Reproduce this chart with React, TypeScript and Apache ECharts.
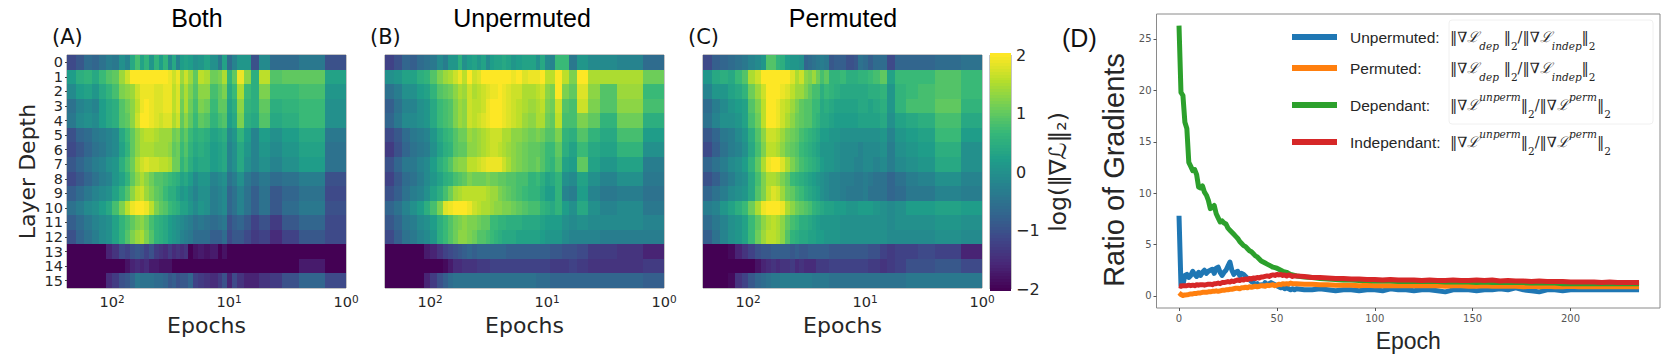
import React, { useEffect, useRef } from "react";
import * as echarts from "echarts";

const viridis = ["#440154","#482878","#3e4989","#31688e","#26828e","#1f9e89","#35b779","#6ece58","#b5de2b","#fde725"];
const epochEdges = [243,205,175,150,130,112,100,88,78,70,64,58,53,48,44,40,36.5,33.5,30.5,28.5,26.5,24.5,22.5,20.5,18.5,16.5,14.5,12.5,11.5,10.5,9.5,8.5,7.5,6.5,5.5,4.5,3.5,2.5,1.5,1];
const layerLabels = ["0","1","2","3","4","5","6","7","8","9","10","11","12","13","14","15"];
const majorTicks = [100,10,1];
const minorTicks = [200,90,80,70,60,50,40,30,20,9,8,7,6,5,4,3,2];
const lineXTicks = [0,50,100,150,200];
const lineYTicks = [0,5,10,15,20,25];

const bothRows = [
[-1.1,-0.9,-0.6,-0.7,-0.5,-0.3,-0.4,0,-0.2,0.4,0.8,0.3,0.6,0.1,0.6,0.2,0.6,-0.1,0.4,-0.2,0.2,0.3,0.2,0,0.1,0.3,0,-0.4,0.3,-0.6,-0.2,0.1,0.1,-1,-0.1,-0.6,-0.6,-0.4,-1],
[0.2,0.5,0.6,0.4,0.7,0.9,1,1.4,1.7,2,2,2,2,2,2,2,2,1.9,1.7,1.9,1.4,1.7,1.4,1,1.6,1.5,1.1,1.2,1.5,0.6,1,1.9,1.3,0.5,1.6,0.9,1,1,0.3],
[-0.1,0.2,0.3,0.1,0.4,0.6,0.8,1.2,1.3,1.4,1.7,1.9,1.9,1.9,1.8,1.8,1.9,1.9,1.6,1.8,1.2,1.5,1.2,0.9,1.3,1.3,0.8,1,1.2,0.4,0.7,1.5,0.7,0.5,1.2,0.7,0.7,0.8,0.1],
[-0.5,-0.2,-0.1,-0.2,0.2,0.4,0.5,0.9,1.1,1.3,1.6,1.9,2,1.9,1.8,1.8,1.9,1.9,1.6,1.8,1.1,1.5,1.1,0.8,1.2,1.1,0.7,1,1,0.3,0.5,1.3,0.6,0.5,1,0.5,0.6,0.7,0],
[-0.4,-0.1,0,-0.1,0.2,0.4,0.5,0.9,1,1.3,1.7,2,2,1.9,1.8,1.7,1.8,1.8,1.5,1.7,1,1.3,1,0.7,1,0.9,0.6,0.8,0.9,0.2,0.4,1.2,0.5,0.4,0.9,0.4,0.5,0.7,0],
[-1,-0.7,-0.6,-0.4,-0.3,-0.2,-0.1,0.4,0.7,1,1.3,1.5,1.6,1.6,1.5,1.4,1.4,1.4,1.1,1.2,0.8,1,0.7,0.5,0.6,0.5,0.3,0.4,0.5,-0.1,0.1,0.6,0.2,-0.2,0.2,0,0.2,0.4,-0.4],
[-1.1,-0.9,-0.7,-0.5,-0.4,-0.2,-0.1,0.3,0.6,1,1.3,1.5,1.5,1.5,1.4,1.4,1.4,1.3,1,1.1,0.7,0.9,0.6,0.4,0.5,0.4,0.2,0.3,0.4,-0.2,0,0.4,0.1,-0.2,0.1,-0.1,0.1,0.3,-0.5],
[-0.9,-0.7,-0.5,-0.3,-0.2,0,0.1,0.5,0.8,1.1,1.5,1.7,1.8,1.7,1.7,1.6,1.6,1.5,1.1,1.1,0.6,0.8,0.5,0.3,0.4,0.4,0.2,0.3,0.4,-0.2,0,0.4,0,-0.2,0,-0.2,0,0.2,-0.5],
[-1.1,-0.9,-0.7,-0.5,-0.3,-0.2,0.1,0.3,0.6,1,1.3,1.5,1.3,1.1,0.9,0.9,0.8,0.7,0.6,0.5,0.3,0.4,0.2,-0.1,0.1,0.1,-0.2,-0.1,0,-0.5,-0.3,0,-0.4,-0.6,-0.4,-0.6,-0.5,-0.3,-1],
[-0.8,-0.6,-0.4,-0.2,-0.1,0,0.3,0.6,0.9,1.3,1.6,1.7,1.4,1.2,1,0.9,0.7,0.5,0.5,0.3,0.1,0.2,0,-0.2,0,0,-0.3,-0.2,-0.1,-0.7,-0.5,-0.2,-0.5,-0.8,-0.5,-0.9,-0.7,-0.5,-1.1],
[-0.5,-0.3,-0.1,0,0.2,0.4,0.8,1.2,1.6,1.9,2,2,1.9,1.6,1.2,1,0.9,0.7,0.6,0.5,0.3,0.3,0.1,-0.1,0.1,0,-0.3,-0.2,-0.1,-0.7,-0.5,-0.2,-0.5,-0.8,-0.5,-0.9,-0.6,-0.4,-1],
[-0.8,-0.6,-0.4,-0.2,-0.1,0,0.3,0.6,0.8,1,1.2,1.3,1.1,0.8,0.6,0.5,0.4,0.2,0.1,0,-0.1,-0.2,-0.3,-0.5,-0.4,-0.5,-0.6,-0.5,-0.4,-1,-0.8,-0.7,-0.9,-1.2,-1,-1.3,-0.9,-0.7,-1.1],
[-1,-0.7,-0.5,-0.3,-0.1,0,0.3,0.6,0.9,1.2,1.4,1.5,1.2,0.9,0.6,0.5,0.4,0.2,0.1,0,-0.2,-0.3,-0.4,-0.6,-0.6,-0.6,-0.8,-0.8,-0.6,-1.1,-0.9,-0.9,-1.1,-1.3,-1.2,-1.5,-1.2,-0.9,-1.1],
[-2,-2,-2,-2,-2,-1.6,-1.4,-1.1,-1.2,-1,-0.9,-1,-1.2,-1,-1.3,-1.4,-1.5,-1.3,-1.5,-1.4,-1.5,-1.4,-2,-1.8,-1.7,-1.8,-1.7,-2,-1.8,-2,-2,-2,-2,-2,-2,-2,-2,-2,-2],
[-2,-2,-2,-2,-2,-2,-2,-2,-1.8,-1.6,-1.5,-1.6,-1.5,-1.7,-1.7,-1.8,-1.8,-1.8,-2,-2,-2,-2,-2,-2,-2,-2,-2,-2,-2,-2,-2,-2,-2,-2,-2,-2,-2,-1.7,-2],
[-2,-2,-2,-2,-2,-1.5,-1.3,-1,-0.9,-0.7,-0.4,-0.5,-0.5,-0.5,-0.6,-0.6,-0.7,-0.9,-0.8,-1,-0.9,-0.9,-0.7,-1.2,-1.3,-1.4,-1.5,-1.3,-1,-1.6,-1.1,-1.4,-1.6,-1.6,-1.4,-1.3,-1,-0.7,-1.1],
];

const unpermutedRows = [
[-1.2,-1,-0.7,-0.8,-0.6,-0.5,-0.4,-0.1,-0.3,0.1,0.1,0.5,0,0.2,0.3,0.1,0.3,-0.1,0.2,0.3,0.3,0.4,0.3,0.1,0.2,0.3,0.3,0,0.4,-0.1,-0.2,0.7,0.7,-0.4,0.1,-0.1,-0.1,-0.2,-0.6],
[0,0.1,0.3,0.3,0.5,0.6,0.9,1.2,1.4,1.5,1.7,1.9,1.6,2,1.7,1.8,2,2,2,2,2,2,2,1.9,2,1.8,1.9,1.9,2,1.6,1.6,2,1.6,1.2,2,1.5,1.5,1.5,1.1],
[-0.5,-0.3,0,0,0.2,0.3,0.6,0.9,1,1.1,1.3,1.5,1.4,1.7,1.5,1.6,1.7,1.8,1.9,1.9,2,1.9,1.8,1.7,1.7,1.5,1.5,1.6,1.7,1.3,1.2,2,1.2,1,1.8,1.3,0.9,1.4,0.7],
[-0.8,-0.5,-0.2,-0.2,0,0.1,0.4,0.7,0.8,0.9,1.2,1.4,1.3,1.7,1.6,1.6,1.7,1.9,2,2,2,1.9,1.8,1.7,1.6,1.5,1.4,1.5,1.6,1.2,1.1,1.7,0.9,0.8,1.7,1.2,0.9,1.3,0.8],
[-0.7,-0.4,-0.1,-0.1,0,0.1,0.4,0.7,0.8,0.9,1.2,1.4,1.3,1.7,1.6,1.7,1.8,1.9,2,2,2,1.9,1.8,1.7,1.6,1.4,1.3,1.5,1.5,1.1,1,1.6,0.8,0.8,1.2,1,0.6,1.1,0.5],
[-1.1,-0.9,-0.6,-0.4,-0.3,-0.2,0.1,0.4,0.6,0.7,0.9,1.1,1.1,1.4,1.3,1.4,1.5,1.6,1.7,1.7,1.7,1.5,1.5,1.3,1.3,1.2,1.1,1.2,1.1,0.9,0.9,1.2,0.6,0.5,0.9,0.6,0.4,0.8,0.2],
[-1.3,-1,-0.7,-0.5,-0.4,-0.3,0,0.3,0.5,0.6,0.9,1,1,1.3,1.3,1.4,1.5,1.6,1.7,1.7,1.6,1.5,1.4,1.3,1.2,1.1,1,1,0.9,0.7,0.7,1,0.5,0.3,0.7,0.4,0.3,0.6,0],
[-1,-0.7,-0.4,-0.4,-0.2,-0.1,0.2,0.5,0.7,0.9,1.2,1.3,1.3,1.6,1.6,1.7,1.8,1.9,1.9,1.9,1.9,1.7,1.5,1.3,1.2,1.1,1,1.1,0.9,0.7,0.6,0.9,0.3,0.2,1,0.3,0.1,0.3,-0.3],
[-1.2,-0.9,-0.6,-0.5,-0.3,-0.1,0.1,0.3,0.5,0.6,0.8,0.9,1,1.2,1.1,1.1,1.1,1.2,1.1,1.1,1,1,0.9,0.9,0.8,0.8,0.6,0.7,0.5,0.3,0.4,0.6,0,-0.1,0.3,0,-0.2,0,-0.4],
[-1,-0.8,-0.5,-0.3,-0.2,0,0.3,0.5,0.8,1.1,1.4,1.5,1.6,1.6,1.6,1.6,1.6,1.5,1.4,1.4,1.2,1.1,1,0.9,0.8,0.7,0.6,0.6,0.4,0.2,0.2,0.6,-0.2,-0.3,0.2,-0.2,-0.4,-0.3,-0.5],
[-0.7,-0.5,-0.2,0,0.2,0.5,0.8,1.2,1.8,1.9,2,2,2,1.9,1.7,1.6,1.5,1.5,1.4,1.3,1.3,1.2,1.2,1.1,1,0.9,0.8,0.8,0.6,0.5,0.4,0.6,0.2,0,0.4,0,-0.2,-0.1,-0.4],
[-0.9,-0.7,-0.4,-0.3,-0.1,0,0.2,0.5,0.7,0.9,1.1,1.2,1.3,1.2,1.2,1.1,1,1,0.7,0.7,0.6,0.6,0.5,0.5,0.5,0.4,0.4,0.4,0.3,0.2,0.2,0.2,0,-0.1,0,-0.1,-0.1,-0.1,-0.2],
[-1.1,-0.8,-0.5,-0.4,-0.2,-0.1,0.1,0.5,0.7,0.9,1.1,1.3,1.3,1.2,1.1,0.9,0.9,0.8,0.7,0.6,0.5,0.4,0.4,0.4,0.3,0.3,0.3,0.3,0.2,0.1,0.1,0.1,-0.1,-0.2,-0.2,-0.2,-0.3,-0.3,-0.3],
[-2,-2,-2,-2,-2,-1.7,-1.6,-1.4,-1.2,-1.1,-1,-0.9,-0.8,-0.7,-0.8,-0.7,-0.7,-0.7,-0.7,-0.7,-0.7,-0.7,-0.8,-0.8,-0.8,-0.8,-0.8,-0.8,-0.8,-0.8,-0.9,-0.9,-1,-1,-1.1,-1.3,-1.3,-1.4,-1.6],
[-2,-2,-2,-2,-2,-2,-2,-2,-1.9,-1.7,-1.5,-1.5,-1.4,-1.4,-1.4,-1.3,-1.3,-1.3,-1.2,-1.2,-1.2,-1.2,-1.2,-1.2,-1.2,-1.2,-1.2,-1.2,-1.2,-1.2,-1.3,-1.3,-1.3,-1.2,-1.3,-1.4,-1.4,-1.4,-1.3],
[-2,-2,-2,-2,-2,-1.6,-1.3,-1,-0.8,-0.6,-0.5,-0.5,-0.5,-0.5,-0.5,-0.5,-0.5,-0.5,-0.5,-0.5,-0.5,-0.5,-0.5,-0.5,-0.5,-0.5,-0.5,-0.6,-0.6,-0.6,-0.7,-0.7,-0.7,-0.7,-0.7,-0.7,-0.7,-0.7,-0.8],
];

const permutedRows = [
[-1.1,-0.8,-0.7,-0.6,-0.5,-0.4,-0.2,-0.1,0.1,0.9,0.9,0.6,0.5,0.2,0.1,0.1,0,-0.7,-0.6,-0.5,-0.4,-0.3,-0.4,-0.9,-0.8,-0.8,-1,-0.9,-0.5,-0.6,-0.8,-0.6,-0.6,-1.1,-0.7,-0.7,-0.7,-0.6,-0.5],
[0.1,0.4,0.5,0.4,0.7,0.9,1.5,1.7,2,2,2,2,2,2,1.8,1.5,1.7,1.3,1.2,1.4,1.1,0.8,1,0.6,0.6,0.7,0.5,0.5,0.6,0.6,0.7,0.8,1,0.3,0.7,0.7,0.7,0.9,0.7],
[-0.2,0.1,0.1,0.3,0.4,0.6,1.1,1.4,1.7,2,2,2,1.9,1.8,1.6,1.4,1.4,1.2,1,0.8,0.8,0.5,0.7,0.6,0.5,0.4,0.4,0.4,0.4,0.4,0.5,0.5,0.6,0.1,0.6,0.7,0.8,0.9,0.7],
[-0.6,-0.3,-0.1,0.1,0.2,0.3,0.9,1.2,1.6,2,2,1.9,1.7,1.6,1.4,1.2,1,0.9,0.9,0.7,0.7,0.4,0.5,0.4,0.3,0.3,0.3,0.3,0.4,0.4,0.3,0.4,0.5,0.1,0.6,0.8,0.8,1,0.6],
[-0.5,-0.2,0,0,0.1,0.3,0.8,1.1,1.6,2,2,1.9,1.7,1.5,1.3,1.1,1,0.9,0.9,0.7,0.6,0.4,0.4,0.3,0.2,0.2,0.2,0.2,0.3,0.3,0.3,0.3,0.4,0,0.3,0.4,0.5,0.8,0.4],
[-0.9,-0.7,-0.4,-0.3,-0.1,0.1,0.5,0.9,1.3,1.7,1.7,1.6,1.4,1.2,1.1,1,0.8,0.7,0.6,0.5,0.4,0.2,0.2,0.1,0.1,0,0,0,0,0,0,0,0.1,-0.2,0.1,0.2,0.3,0.7,0.2],
[-1.1,-0.8,-0.5,-0.3,-0.2,0,0.4,0.8,1.2,1.6,1.6,1.5,1.3,1.1,1,0.9,0.7,0.6,0.5,0.4,0.3,0.1,0.1,0.1,0,-0.1,-0.1,-0.1,-0.2,-0.1,-0.1,-0.1,0,-0.3,0,0.1,0.2,0.5,0],
[-0.7,-0.5,-0.3,-0.1,0,0.2,0.6,1,1.5,1.9,2,2,1.8,1.5,1.2,1,0.8,0.7,0.6,0.5,0.4,0.2,0.1,0.1,0,-0.1,-0.1,-0.2,-0.2,-0.1,-0.1,-0.2,-0.1,-0.3,-0.1,0,0.1,0.4,0],
[-1,-0.8,-0.5,-0.3,-0.1,0,0.4,0.8,1.2,1.5,1.5,1.4,1.2,1,0.7,0.6,0.5,0.4,0.3,0.2,0.1,0,-0.1,-0.2,-0.2,-0.3,-0.3,-0.4,-0.4,-0.3,-0.4,-0.5,-0.5,-0.7,-0.5,-0.3,-0.2,0,-0.2],
[-0.7,-0.5,-0.3,-0.1,0,0.1,0.4,0.9,1.2,1.6,1.8,1.7,1.4,1.1,1,0.8,0.7,0.5,0.4,0.3,0.2,0,-0.1,-0.2,-0.2,-0.3,-0.4,-0.4,-0.4,-0.3,-0.5,-0.5,-0.5,-0.7,-0.6,-0.4,-0.4,-0.2,-0.3],
[-0.3,-0.2,0.1,0.3,0.5,0.7,1.1,1.5,1.9,2,2,2,1.9,1.5,1.3,1.1,1,0.9,0.8,0.6,0.5,0.4,0.3,0.3,0.2,0.2,0.1,0.1,0.2,0.2,0.2,0.1,0,-0.1,0,0.2,0.2,0.3,0.2],
[-0.6,-0.4,-0.2,0,0.1,0.3,0.7,1,1.3,1.5,1.6,1.5,1.3,1,0.8,0.7,0.5,0.5,0.4,0.3,0.2,0.1,0.1,0.1,0.1,0,0,0,0,0,0,0,0,-0.1,0,0,0,0.1,0],
[-0.8,-0.5,-0.2,0,0.1,0.3,0.7,1.1,1.4,1.6,1.6,1.5,1.3,0.9,0.6,0.5,0.4,0.4,0.3,0.3,0.2,0.2,0.1,0.1,0.1,0,0,0,0,0,0,0,0,-0.1,-0.1,-0.1,-0.1,0,-0.1],
[-2,-2,-2,-1.9,-1.6,-1.4,-1.2,-1,-0.9,-0.9,-0.8,-0.8,-0.8,-0.8,-0.9,-0.8,-0.9,-0.9,-0.8,-0.8,-0.8,-0.8,-0.8,-0.9,-0.9,-0.9,-0.9,-0.9,-0.9,-0.9,-1,-1,-1.2,-1.3,-1.2,-1.2,-1.1,-1.2,-1.6],
[-2,-2,-2,-2,-2,-2,-2,-1.8,-1.6,-1.5,-1.4,-1.5,-1.4,-1.4,-1.3,-1.5,-1.4,-1.5,-1.5,-1.5,-1.3,-1.3,-1.3,-1.2,-1.2,-1.2,-1.2,-1.2,-1.2,-1.2,-1.3,-1.3,-1.4,-1.3,-1.2,-1,-1,-0.9,-1.1],
[-2,-2,-2,-1.9,-1.4,-1.2,-0.9,-0.7,-0.6,-0.5,-0.4,-0.4,-0.3,-0.3,-0.3,-0.3,-0.3,-0.3,-0.3,-0.4,-0.4,-0.4,-0.4,-0.5,-0.5,-0.5,-0.5,-0.5,-0.5,-0.5,-0.5,-0.5,-0.5,-0.5,-0.5,-0.4,-0.4,-0.4,-0.4],
];

const lineEpochs = [0,1,2,3,4,5,6,7,8,9,10,11,12,13,14,15,16,17,18,19,20,21,22,23,24,25,26,27,28,29,30,31,32,33,34,35,36,37,38,39,40,41,42,43,44,45,46,47,48,49,50,51,52,53,54,55,56,57,58,59,60,64,68,72,76,80,84,88,92,96,100,104,108,112,116,120,124,128,132,136,140,144,148,152,156,160,164,168,172,176,180,184,188,192,196,200,204,208,212,216,220,224,228,232,235];
const unpermutedRatio = [7.8,1,1.1,2,2.1,1.8,2,2.4,2.1,1.9,2.3,2,2.3,2.5,2.2,2.4,2.5,2.6,2.2,2.7,2.8,2.3,2,2.3,2.5,2.9,3.3,2.5,2.1,2.3,2.4,2,2.2,2.1,1.9,1.7,1.6,1.4,1.3,1.1,1.2,1,1.1,1,1.3,1.1,1.2,1.3,1.2,1.1,1,0.9,0.8,0.9,0.7,0.8,0.7,0.6,0.7,0.6,
0.7,0.6,0.6,0.7,0.6,0.5,0.6,0.6,0.5,0.6,0.6,0.5,0.7,0.6,0.6,0.5,0.6,0.6,0.5,0.4,0.6,0.6,0.6,0.5,0.6,0.6,0.7,0.6,0.8,0.6,0.5,0.4,0.6,0.6,0.5,0.6,0.6,0.6,0.6,0.6,0.6,0.6,0.6,0.6,0.6];
const permutedRatio = [0.3,0.15,0.05,0.1,0.12,0.15,0.2,0.2,0.25,0.25,0.3,0.3,0.35,0.35,0.35,0.4,0.4,0.45,0.45,0.5,0.45,0.5,0.55,0.55,0.6,0.6,0.65,0.65,0.7,0.75,0.75,0.7,0.8,0.8,0.85,0.8,0.9,0.85,0.9,0.95,0.9,0.95,1,1,0.95,1.05,1,1.05,1.1,1,1.05,1.15,1.1,1.2,1.15,1.2,1.15,1.25,1.2,1.2,
1.2,1.15,1.15,1.1,1.1,1.05,1.05,1.05,1,1.05,1,1,1,1,1,1,1,1,1,0.95,1,1,0.95,0.95,1,0.95,0.95,0.95,0.95,0.9,0.95,0.9,0.95,0.9,0.9,0.95,0.9,0.9,0.9,0.9,0.9,0.9,0.9,0.9,0.9];
const dependantRatio = [26.3,19.8,19.5,16.9,16.3,13,12.6,12.2,12.3,11.8,10.6,10.5,10.7,10.1,9.8,9.3,8.5,8.6,8.8,8,7.6,7.2,7.3,7.1,7,6.6,6.4,6.2,6,5.8,5.6,5.3,5.1,4.9,4.8,4.6,4.4,4.3,4.1,3.9,3.8,3.6,3.4,3.3,3.2,3.1,3,2.9,2.8,2.75,2.7,2.6,2.5,2.4,2.35,2.3,2.2,2.1,2.05,2,
1.95,1.85,1.8,1.7,1.65,1.6,1.55,1.55,1.5,1.5,1.45,1.45,1.45,1.4,1.4,1.4,1.4,1.4,1.4,1.35,1.35,1.35,1.35,1.3,1.35,1.3,1.3,1.3,1.3,1.3,1.25,1.25,1.25,1.25,1.2,1.2,1.2,1.2,1.2,1.2,1.2,1.2,1.2,1.2,1.2];
const independantRatio = [1,0.95,1,1,1,1.05,1,1.05,1,1.1,1.05,1.1,1.1,1.05,1.1,1.15,1.15,1.1,1.2,1.2,1.25,1.2,1.3,1.3,1.35,1.4,1.35,1.45,1.4,1.5,1.55,1.5,1.6,1.55,1.65,1.6,1.7,1.65,1.75,1.7,1.8,1.75,1.85,1.85,1.9,1.95,1.9,2,2.05,2,2.1,2.05,2.1,2,2.05,1.95,2.05,2,1.9,1.95,
1.95,1.9,1.8,1.8,1.75,1.7,1.7,1.65,1.65,1.6,1.6,1.55,1.6,1.55,1.55,1.55,1.5,1.55,1.5,1.5,1.55,1.5,1.5,1.55,1.5,1.55,1.45,1.5,1.45,1.45,1.4,1.45,1.4,1.4,1.4,1.35,1.35,1.35,1.35,1.3,1.35,1.3,1.3,1.3,1.3];
const lineNames = ["Unpermuted","Permuted","Dependant","Independant"];
const lineColors = ["#1f77b4","#ff7f0e","#2ca02c","#d62728"];
const panelTitles = ["Both","Unpermuted","Permuted"];
const colorbarLevels = Array.from({ length: 81 }, (_, i) => -2 + i * 0.05);

const DJ = "DejaVu Sans";
const LS = "Liberation Sans";
const SPINE = "#8a8a8a";
const INK = "#262626";

const renderCell = (params: any, api: any) => {
  const a = api.coord([api.value(0), api.value(2)]);
  const b = api.coord([api.value(1), api.value(2)]);
  const h = api.size([0, 1])[1];
  const x0 = Math.round(a[0]);
  const x1 = Math.round(b[0]);
  return {
    type: "rect",
    shape: { x: x0, y: Math.round(a[1] - h / 2), width: x1 - x0, height: Math.ceil(h) },
    style: { fill: api.visual("color") },
  };
};
const renderBar = (params: any, api: any) => {
  const a = api.coord([0, api.value(2) + 0.025]);
  const b = api.coord([1, api.value(2) - 0.025]);
  return {
    type: "rect",
    shape: { x: a[0], y: Math.floor(a[1]), width: b[0] - a[0], height: Math.ceil(b[1] - a[1]) + 1 },
    style: { fill: api.visual("color") },
  };
};

const panelX = [[67, 346], [385, 664], [703, 982]];
const PTOP = 55;
const PBOT = 288;
const W = 1673;
const H = 359;

function buildOption() {
  const grids: any[] = [];
  const xAxes: any[] = [];
  const yAxes: any[] = [];
  const series: any[] = [];
  const rowsByPanel = [bothRows, unpermutedRows, permutedRows];
  panelX.forEach(([l, r], p) => {
    grids.push({ left: l, width: r - l, top: PTOP, height: PBOT - PTOP, show: true, borderColor: SPINE, borderWidth: 1, backgroundColor: "transparent" });
    xAxes.push({
      type: "log", gridIndex: p, min: 1, max: 243, inverse: true, name: "Epochs", nameLocation: "middle", nameGap: 24,
      nameTextStyle: { fontFamily: DJ, fontSize: 22, color: INK },
      axisLine: { show: false },
      axisTick: { length: 4, lineStyle: { color: "#444" }, customValues: majorTicks },
      axisLabel: {
        color: INK, margin: 5, customValues: majorTicks,
        formatter: (v: number) => `{b|10}{s|${v >= 100 ? 2 : v >= 10 ? 1 : 0}}`,
        rich: {
          b: { fontFamily: DJ, fontSize: 14.5, color: INK, lineHeight: 18 },
          s: { fontFamily: DJ, fontSize: 10.5, color: INK, verticalAlign: "top", lineHeight: 12 },
        },
      },
      splitLine: { show: false },
    });
    yAxes.push({
      type: "category", gridIndex: p, data: layerLabels, inverse: true,
      name: p === 0 ? "Layer Depth" : "", nameLocation: "middle", nameGap: 29, nameRotate: 90,
      nameTextStyle: { fontFamily: DJ, fontSize: 22, color: INK },
      axisLine: { show: false },
      axisTick: { show: p === 0, length: 2, alignWithLabel: true, lineStyle: { color: "#444" } },
      axisLabel: { show: p === 0, fontFamily: DJ, fontSize: 14.5, color: INK, margin: 4, interval: 0 },
      splitLine: { show: false },
    });
    const cells: number[][] = [];
    rowsByPanel[p].forEach((row, ri) => row.forEach((v, ci) => cells.push([epochEdges[ci], epochEdges[ci + 1], ri, v])));
    series.push({ type: "custom", xAxisIndex: p, yAxisIndex: p, renderItem: renderCell, data: cells, encode: { x: [0, 1], y: 2 }, silent: true, clip: true });
  });
  panelX.forEach(([l, r], p) => {
    xAxes.push({
      type: "log", gridIndex: p, min: 1, max: 243, inverse: true, position: "bottom",
      axisLine: { show: false },
      axisTick: { length: 2, lineStyle: { color: "#444" }, customValues: minorTicks },
      axisLabel: { show: false },
      splitLine: { show: false },
    });
  });
  grids.push({ left: 990, width: 21, top: PTOP, height: 234, show: true, borderColor: SPINE, borderWidth: 1, backgroundColor: "transparent" });
  xAxes.push({ type: "value", gridIndex: 3, min: 0, max: 1, show: false });
  yAxes.push({
    type: "value", gridIndex: 3, min: -2, max: 2, interval: 1, position: "right",
    name: "log(‖∇ℒ‖₂)", nameLocation: "middle", nameRotate: 90, nameGap: 35,
    nameTextStyle: { fontFamily: DJ, fontSize: 23.5, color: INK },
    axisLine: { show: false },
    axisTick: { length: 3, lineStyle: { color: "#444" } },
    axisLabel: { fontFamily: DJ, fontSize: 16, color: INK, margin: 5, formatter: (v: number) => String(v).replace("-", "−") },
    splitLine: { show: false },
  });
  series.push({
    type: "custom", xAxisIndex: 6, yAxisIndex: 3, renderItem: renderBar,
    data: colorbarLevels.map((v) => [0, 1, v, v]), encode: { x: [0, 1], y: 2 }, silent: true,
  });
  grids.push({ left: 1156.5, width: 503.5, top: 14, height: 294, show: true, borderColor: SPINE, borderWidth: 1, backgroundColor: "transparent" });
  xAxes.push({
    type: "value", gridIndex: 4, min: -11.5, max: 245.7, name: "Epoch", nameLocation: "middle", nameGap: 21,
    nameTextStyle: { fontFamily: LS, fontSize: 23, color: INK },
    axisLine: { show: false, onZero: false },
    axisTick: { length: 3, lineStyle: { color: "#555" }, customValues: lineXTicks },
    axisLabel: { fontFamily: DJ, fontSize: 10, color: "#555", margin: 5, customValues: lineXTicks },
    splitLine: { show: false },
  });
  yAxes.push({
    type: "value", gridIndex: 4, min: -1.17, max: 27.43, name: "Ratio of Gradients", nameLocation: "middle", nameRotate: 90, nameGap: 28,
    nameTextStyle: { fontFamily: LS, fontSize: 29, color: INK, padding: [0, 18, 0, 0] },
    axisLine: { show: false, onZero: false },
    axisTick: { length: 3, lineStyle: { color: "#555" }, customValues: lineYTicks },
    axisLabel: { fontFamily: DJ, fontSize: 10, color: "#555", margin: 5, customValues: lineYTicks },
    splitLine: { show: false },
  });
  const lineData = [unpermutedRatio, permutedRatio, dependantRatio, independantRatio];
  lineData.forEach((vals, i) => {
    series.push({
      type: "line", name: lineNames[i], xAxisIndex: 7, yAxisIndex: 4, showSymbol: false,
      data: vals.map((v, j) => [lineEpochs[j], v]),
      lineStyle: { color: lineColors[i], width: 5, join: "round" }, itemStyle: { color: lineColors[i] }, silent: true,
    });
  });

  const depIndep = "{m|‖∇}{c|ℒ}{sub|dep}{m| ‖}{s2|2}{m|/‖∇}{c|ℒ}{sub|indep}{m|‖}{s2|2}";
  const unpPerm = "{m|‖∇}{c|ℒ}{sup|unperm}{m|‖}{s2|2}{m|/‖∇}{c|ℒ}{sup|perm}{m|‖}{s2|2}";
  const legendMath: Record<string, string> = { Unpermuted: depIndep, Permuted: depIndep, Dependant: unpPerm, Independant: unpPerm };
  const MATH = "DejaVu Serif";

  const titles = panelTitles.map((t, i) => ({
    text: t, left: [197, 522, 843][i], top: 5.5, padding: 0, textAlign: "center",
    textStyle: { fontFamily: LS, fontSize: 25, fontWeight: "normal", color: "#000" },
  }));
  const tags = [["(A)", 52, 26], ["(B)", 370, 26], ["(C)", 688, 26], ["(D)", 1062, 25]].map(([t, x, y]) => ({
    text: t, left: x, top: y, padding: 0,
    textStyle: { fontFamily: t === "(D)" ? LS : DJ, fontSize: t === "(D)" ? 25 : 21, fontWeight: "normal", color: "#111" },
  }));

  return {
    animation: false,
    backgroundColor: "#fff",
    title: [...titles, ...tags],
    grid: grids,
    xAxis: xAxes,
    yAxis: yAxes,
    series,
    visualMap: { type: "continuous", show: false, min: -2, max: 2, dimension: 3, seriesIndex: [0, 1, 2, 3], inRange: { color: viridis } },
    legend: {
      data: lineNames, orient: "vertical", left: 1287, top: 24, itemWidth: 45, itemHeight: 6, itemGap: 9, icon: "rect", selectedMode: false,
      formatter: (n: string) => `{t|${n}:}${legendMath[n]}`,
      textStyle: {
        rich: {
          t: { fontFamily: LS, fontSize: 15.5, color: INK, width: 100, padding: [0, 0, 0, 8], lineHeight: 28 },
          m: { fontFamily: MATH, fontSize: 14.5, color: INK, lineHeight: 28 },
          c: { fontFamily: MATH, fontSize: 14.5, fontStyle: "italic", color: INK, lineHeight: 28 },
          sub: { fontFamily: MATH, fontSize: 10.5, fontStyle: "italic", color: INK, verticalAlign: "bottom", lineHeight: 20 },
          sup: { fontFamily: MATH, fontSize: 10.5, fontStyle: "italic", color: INK, verticalAlign: "top", lineHeight: 20 },
          s2: { fontFamily: MATH, fontSize: 10.5, color: INK, verticalAlign: "bottom", lineHeight: 20 },
        },
      },
    },
    graphic: [{ type: "rect", silent: true, shape: { x: 1449, y: 20, width: 204, height: 104, r: 3 }, style: { fill: "transparent", stroke: "#f0f0f0", lineWidth: 1 } }],
  };
}

export default function App() {
  const ref = useRef<HTMLDivElement>(null);
  useEffect(() => {
    document.body.style.margin = "0";
    const chart = echarts.init(ref.current!, undefined, { renderer: "svg", width: W, height: H });
    chart.setOption(buildOption() as any);
    return () => chart.dispose();
  }, []);
  return <div ref={ref} style={{ width: W, height: H }} />;
}
